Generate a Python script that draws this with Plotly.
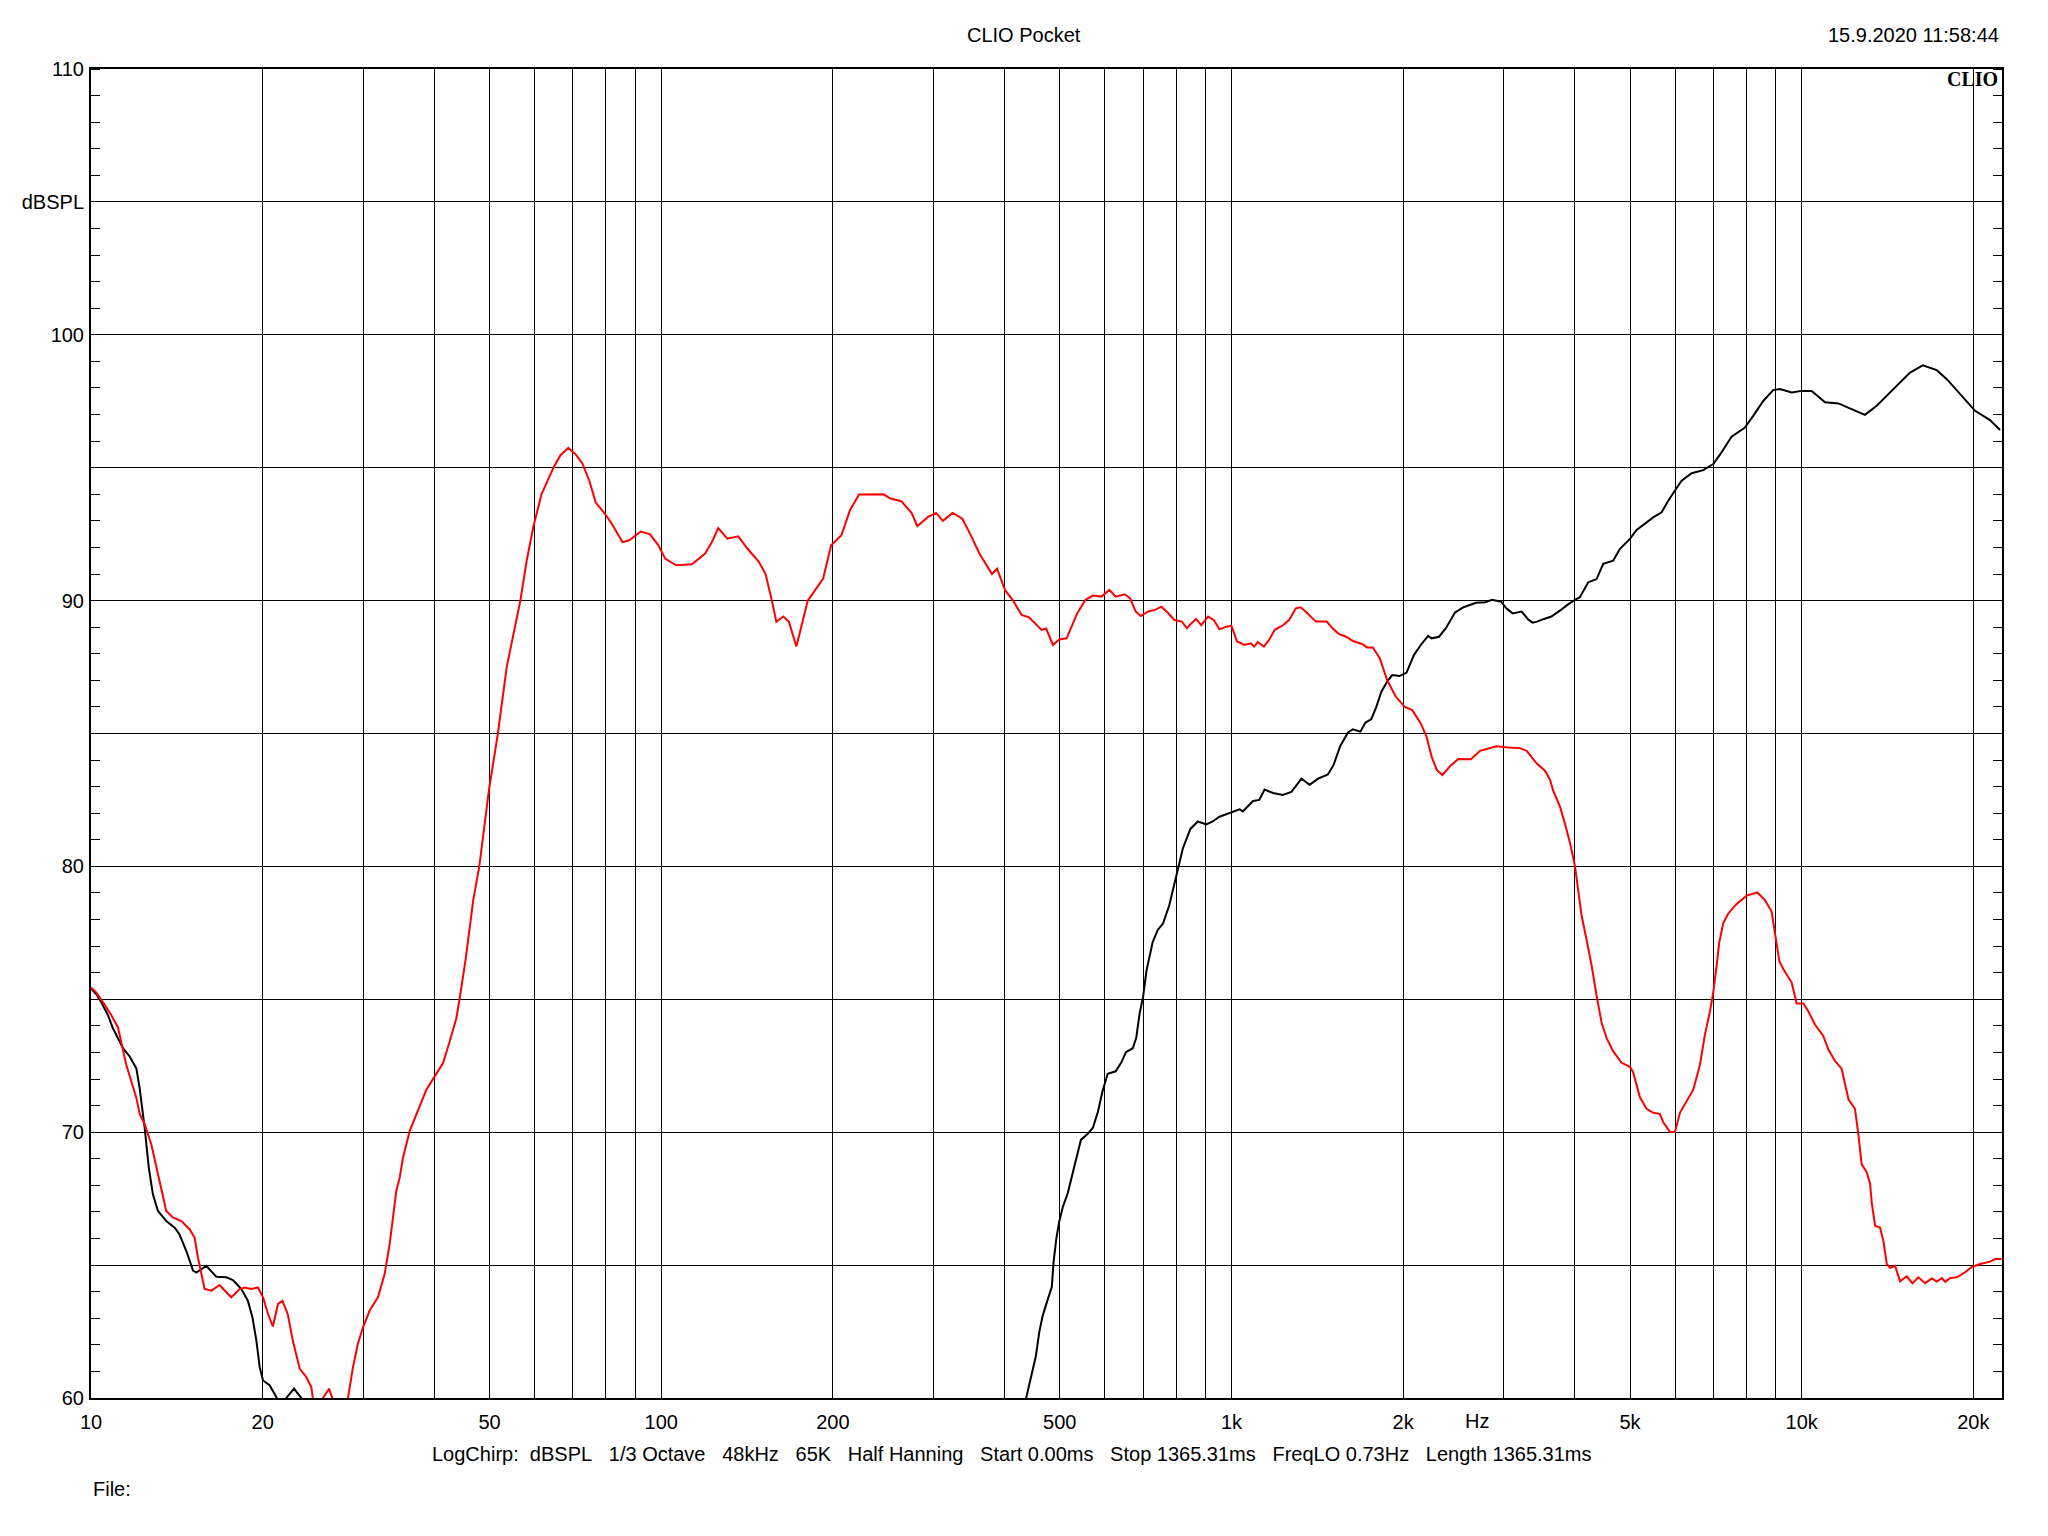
import plotly.graph_objects as go

# ---------------- data ----------------
red_freq_hz = [10.0, 10.21, 10.57, 10.85, 11.15, 11.30, 11.53, 11.77, 12.01, 12.17, 12.42, 12.76, 13.02, 13.28,
               13.55, 13.92, 14.40, 14.89, 15.19, 15.40, 15.61, 15.82, 16.26, 16.81, 17.27, 17.62, 18.23, 18.60,
               19.10, 19.63, 20.03, 20.44, 20.84, 21.28, 21.66, 22.13, 22.59, 23.23, 23.85, 24.34, 24.49, 24.95,
               25.52, 26.15, 26.49, 27.35, 28.23, 28.80, 29.38, 29.99, 30.81, 31.86, 32.73, 33.40, 33.85, 34.31,
               34.78, 35.25, 36.21, 37.45, 38.74, 40.06, 41.43, 42.56, 43.72, 44.32, 45.39, 46.83, 47.97, 49.89,
               51.71, 53.58, 56.62, 58.08, 59.70, 61.66, 64.71, 66.53, 68.71, 70.79, 72.78, 74.82, 76.74, 79.62,
               81.85, 85.51, 87.90, 92.04, 95.50, 98.86, 101.6, 106.2, 113.2, 119.4, 122.7, 125.9, 130.6, 136.5,
               141.6, 148.3, 152.4, 156.3, 159.2, 163.7, 167.5, 172.6, 177.4, 180.7, 187.1, 192.3, 198.6, 207.0,
               214.3, 222.3, 245.5, 252.4, 263.6, 274.8, 281.2, 293.8, 303.4, 311.9, 324.3, 337.3, 348.3, 361.4,
               380.2, 388.1, 400.9, 414.0, 428.5, 441.6, 464.5, 473.2, 486.4, 498.9, 514.0, 535.8, 554.6, 571.5,
               591.6, 610.9, 626.6, 650.1, 663.7, 679.2, 693.4, 714.5, 734.5, 753.5, 772.7, 794.3, 818.4, 835.6,
               851.1, 867.0, 885.1, 909.9, 931.1, 952.8, 979.5, 1000, 1023, 1054, 1081, 1096, 1112, 1140, 1164,
               1191, 1233, 1262, 1297, 1321, 1346, 1406, 1469, 1510, 1542, 1589, 1633, 1694, 1730, 1770, 1820,
               1875, 1941, 2014, 2075, 2148, 2198, 2244, 2291, 2344, 2427, 2500, 2630, 2728, 2803, 2917, 3057,
               3206, 3294, 3428, 3546, 3618, 3667, 3767, 3844, 3923, 4002, 4057, 4111, 4197, 4281, 4369, 4458,
               4549, 4673, 4833, 4998, 5065, 5203, 5346, 5491, 5641, 5718, 5875, 5994, 6116, 6283, 6455, 6632,
               6768, 6906, 6998, 7094, 7170, 7286, 7435, 7691, 8008, 8360, 8622, 8857, 8978, 9137, 9285, 9603,
               9799, 10070, 10270, 10550, 10910, 11140, 11440, 11750, 12080, 12400, 12570, 12740, 13000, 13180,
               13270, 13450, 13720, 13910, 14100, 14290, 14580, 14880, 15280, 15640, 16020, 16460, 16910, 17260,
               17610, 17850, 18200, 18710, 19350, 19880, 20560, 21400, 21840, 22430]
red_spl_db = [75.44, 75.26, 74.79, 74.41, 73.94, 73.41, 72.54, 71.91, 71.29, 70.70, 70.30, 69.54, 68.66, 67.79,
              67.04, 66.79, 66.66, 66.35, 66.04, 65.29, 64.66, 64.10, 64.04, 64.25, 63.98, 63.79, 64.10, 64.16,
              64.10, 64.16, 63.79, 63.16, 62.69, 63.54, 63.66, 63.16, 62.16, 61.10, 60.79, 60.41, 60.00, 59.40,
              60.00, 60.35, 60.00, 58.50, 60.00, 61.16, 62.04, 62.66, 63.29, 63.79, 64.66, 65.79, 66.79, 67.79,
              68.29, 69.04, 70.04, 70.85, 71.60, 72.10, 72.60, 73.41, 74.29, 75.04, 76.50, 78.76, 80.00, 82.90,
              85.00, 87.50, 90.00, 91.50, 92.80, 94.00, 95.00, 95.46, 95.75, 95.50, 95.15, 94.50, 93.70, 93.27,
              92.90, 92.20, 92.27, 92.60, 92.50, 92.08, 91.58, 91.33, 91.37, 91.77, 92.20, 92.73, 92.33, 92.42,
              91.96, 91.46, 91.00, 90.00, 89.20, 89.40, 89.20, 88.27, 89.27, 90.00, 90.46, 90.83, 92.08, 92.46,
              93.40, 93.99, 94.00, 93.84, 93.74, 93.30, 92.80, 93.15, 93.30, 93.00, 93.30, 93.08, 92.50, 91.77,
              91.00, 91.20, 90.39, 90.00, 89.46, 89.37, 88.90, 88.95, 88.33, 88.54, 88.58, 89.50, 90.03, 90.19,
              90.15, 90.40, 90.15, 90.24, 90.09, 89.59, 89.42, 89.59, 89.65, 89.77, 89.55, 89.27, 89.21, 88.96,
              89.15, 89.31, 89.08, 89.40, 89.27, 88.92, 89.02, 89.05, 88.46, 88.33, 88.39, 88.27, 88.44, 88.27, 88.52,
              88.90, 89.08, 89.27, 89.71, 89.75, 89.61, 89.21, 89.21, 88.92, 88.75, 88.64, 88.48, 88.37, 88.24, 88.24, 87.83,
              87.01, 86.39, 86.00, 85.88, 85.38, 84.88, 84.13, 83.63, 83.44, 83.81, 84.04, 84.03, 84.35, 84.42, 84.52, 84.47,
              84.45, 84.35, 83.88, 83.60, 83.27, 82.84, 82.26, 81.61, 80.89, 80.03, 79.16, 78.16, 77.22, 76.28, 75.13, 74.12,
              73.54, 73.04, 72.61, 72.46, 72.25, 71.31, 70.88, 70.73, 70.69, 70.37, 70.01, 70.01, 70.73, 71.17, 71.60, 72.54,
              73.69, 74.55, 75.27, 76.28, 77.15, 77.87, 78.23, 78.59, 78.90, 79.02, 78.73, 78.30, 77.43, 76.43, 76.14, 75.63,
              74.84, 74.84, 74.55, 74.05, 73.62, 73.11, 72.68, 72.39, 71.24, 70.88, 69.94, 68.79, 68.50, 68.07,
              67.35, 66.48, 66.41, 65.91, 65.04, 64.90, 64.97, 64.39, 64.58, 64.32, 64.54, 64.32, 64.50, 64.38,
              64.51, 64.37, 64.51, 64.54, 64.73, 64.93, 65.04, 65.13, 65.23, 65.23]

black_freq_hz = [10.0, 10.21, 10.42, 10.71, 10.93, 11.38, 11.69, 12.01, 12.17, 12.42, 12.63, 12.84, 13.10, 13.55,
                 14.02, 14.29, 14.69, 15.10, 15.30, 15.93, 16.59, 17.27, 17.74, 18.35, 18.84, 19.19, 19.50, 19.76,
                 20.03, 20.57, 21.13, 21.58, 22.00, 22.70, 23.38, 25.12, 100.0, 398.1, 436.5, 445.6, 453.9, 460.3,
                 466.7, 476.4, 484.2, 487.5, 493.2, 498.9, 505.8, 516.4, 527.2, 538.3, 544.5, 559.8, 571.5, 583.4,
                 594.3, 606.7, 626.6, 641.2, 653.1, 671.4, 680.8, 690.2, 699.8, 709.6, 727.8, 743.0, 758.6, 778.0,
                 799.8, 822.2, 847.2, 873.0, 903.6, 926.8, 952.8, 993.1, 1033, 1047, 1091, 1119, 1143, 1183, 1230,
                 1274, 1327, 1371, 1419, 1476, 1510, 1552, 1600, 1633, 1683, 1718, 1758, 1795, 1832, 1875, 1914,
                 1972, 2028, 2089, 2148, 2213, 2244, 2312, 2377, 2466, 2553, 2685, 2786, 2864, 2972, 3034, 3112,
                 3228, 3311, 3373, 3436, 3532, 3639, 3767, 3882, 4018, 4083, 4224, 4369, 4487, 4672, 4797, 4998,
                 5134, 5309, 5491, 5680, 5834, 5994, 6158, 6412, 6721, 6998, 7189, 7534, 7943, 8222, 8570, 8913,
                 9162, 9603, 10000, 10410, 10990, 11600, 12160, 12910, 13540, 14480, 15490, 16310, 17250, 17970,
                 18830, 19470, 20140, 21390, 22280]
black_spl_db = [75.40, 75.20, 74.90, 74.40, 73.90, 73.16, 72.85, 72.40, 71.66, 70.16, 68.66, 67.66, 67.04, 66.66,
                66.41, 66.16, 65.54, 64.79, 64.72, 64.97, 64.56, 64.54, 64.44, 64.10, 63.66, 63.04, 62.16, 61.16,
                60.66, 60.48, 60.04, 59.60, 60.00, 60.35, 60.00, 57.00, 55.00, 56.50, 60.00, 60.80, 61.57, 62.49,
                63.10, 63.72, 64.18, 65.10, 66.02, 66.64, 67.17, 67.71, 68.48, 69.25, 69.71, 69.94, 70.17, 70.78,
                71.55, 72.20, 72.29, 72.63, 73.01, 73.16, 73.55, 74.47, 75.08, 76.08, 77.16, 77.62, 77.85, 78.54,
                79.62, 80.69, 81.41, 81.69, 81.58, 81.69, 81.87, 82.00, 82.15, 82.07, 82.46, 82.50, 82.89, 82.76, 82.69,
                82.80, 83.30, 83.07, 83.30, 83.46, 83.81, 84.53, 85.03, 85.16, 85.07, 85.41, 85.53, 86.00, 86.57, 86.95, 87.20,
                87.16, 87.29, 87.95, 88.33, 88.67, 88.58, 88.64, 88.96, 89.55, 89.75, 89.92, 89.94, 90.03, 89.96, 89.71, 89.52,
                89.59, 89.30, 89.17, 89.21, 89.31, 89.40, 89.62, 89.84, 90.05, 90.13, 90.69, 90.81, 91.38, 91.50, 91.94, 92.32,
                92.66, 92.91, 93.13, 93.32, 93.76, 94.14, 94.51, 94.79, 94.91, 95.14, 95.49, 96.17, 96.50, 96.95, 97.52, 97.92,
                97.96, 97.83, 97.89, 97.89, 97.46, 97.42, 97.24, 96.99, 97.33, 97.96, 98.58, 98.85, 98.67, 98.33,
                97.83, 97.46, 97.14, 96.79, 96.42]

x_grid_hz = [10, 20, 30, 40, 50, 60, 70, 80, 90, 100, 200, 300, 400, 500, 600, 700, 800, 900,
             1000, 2000, 3000, 4000, 5000, 6000, 7000, 8000, 9000, 10000, 20000]
x_labels = {10: "10", 20: "20", 50: "50", 100: "100", 200: "200", 500: "500", 1000: "1k",
            2000: "2k", 5000: "5k", 10000: "10k", 20000: "20k"}
y_grid_db = [60, 65, 70, 75, 80, 85, 90, 95, 100, 105, 110]
y_labels = {60: "60", 70: "70", 80: "80", 90: "90", 100: "100", 105: "dBSPL", 110: "110"}

title_text = "CLIO Pocket"
date_text = "15.9.2020 11:58:44"
info_items = ["LogChirp:", "dBSPL", "1/3 Octave", "48kHz", "65K", "Half Hanning", "Start 0.00ms",
              "Stop 1365.31ms", "FreqLO 0.73Hz", "Length 1365.31ms"]

# ---------------- layout geometry ----------------
OFF = 8                      # default page body margin
W, H = 2032, 1520
ML, MT, PW, PH = 83, 61, 1911, 1329
MR = W - ML - PW
MB = H - MT - PH
FONT = "Liberation Sans, Arial, sans-serif"
FS = 20


def px(page_x):
    return (page_x - OFF - ML) / PW


def py(page_y):
    return 1 - (page_y - OFF - MT) / PH


fig = go.Figure()
fig.add_trace(go.Scatter(x=black_freq_hz, y=black_spl_db, mode="lines",
                         line=dict(color="#000000", width=2), hoverinfo="skip", yaxis="y"))
fig.add_trace(go.Scatter(x=red_freq_hz, y=red_spl_db, mode="lines",
                         line=dict(color="#ff0000", width=2), hoverinfo="skip", yaxis="y2"))

yaxis_common = dict(
    range=[60, 110], tickvals=y_grid_db, showgrid=True, gridcolor="#000000", gridwidth=1,
    zeroline=False, showline=True, linecolor="#000000", linewidth=2, ticks="",
    minor=dict(dtick=1, tick0=60, ticks="inside", ticklen=9, tickcolor="#000000", tickwidth=1, showgrid=False),
    fixedrange=True,
)

fig.update_layout(
    width=W, height=H,
    margin=dict(l=ML, r=MR, t=MT, b=MB, pad=0),
    paper_bgcolor="#ffffff", plot_bgcolor="#ffffff",
    showlegend=False,
    font=dict(family=FONT, size=FS, color="#000000"),
    xaxis=dict(
        type="log", range=[1.0, 4.3513],
        tickvals=x_grid_hz, ticktext=[x_labels.get(v, "") for v in x_grid_hz],
        showgrid=True, gridcolor="#000000", gridwidth=1, zeroline=False,
        showline=True, linecolor="#000000", linewidth=2, mirror=True, ticks="",
        ticklabelstandoff=5, tickfont=dict(family=FONT, size=FS, color="#000000"),
        fixedrange=True,
    ),
    yaxis=dict(**yaxis_common, side="left",
               ticktext=[y_labels.get(v, "") for v in y_grid_db],
               tickfont=dict(family=FONT, size=FS, color="#000000"), ticklabelstandoff=1),
    yaxis2=dict(**yaxis_common, side="right", overlaying="y", showticklabels=False),
)

ann = dict(xref="paper", yref="paper", showarrow=False, font=dict(family=FONT, size=FS, color="#000000"))
fig.add_annotation(text=title_text, x=px(1024), y=py(35), xanchor="center", yanchor="middle", **ann)
fig.add_annotation(text=date_text, x=px(2001), y=py(35), xanchor="right", yanchor="middle", **ann)
fig.add_annotation(text="Hz", x=px(1477), y=py(1421), xanchor="center", yanchor="middle", **ann)
sep = "\u00a0\u00a0\u00a0"
info_text = "LogChirp:\u00a0\u00a0" + sep.join(info_items[1:])
fig.add_annotation(text=info_text, x=px(1012), y=py(1454), xanchor="center", yanchor="middle", **ann)
fig.add_annotation(text="File:", x=px(91), y=py(1489), xanchor="left", yanchor="middle", **ann)
fig.add_annotation(text="<b>CLIO</b>", x=px(2000), y=py(79), xanchor="right", yanchor="middle",
                   xref="paper", yref="paper", showarrow=False,
                   font=dict(family="Liberation Serif, Times New Roman, serif", size=20, color="#000000"))

fig.write_html("out.html")
